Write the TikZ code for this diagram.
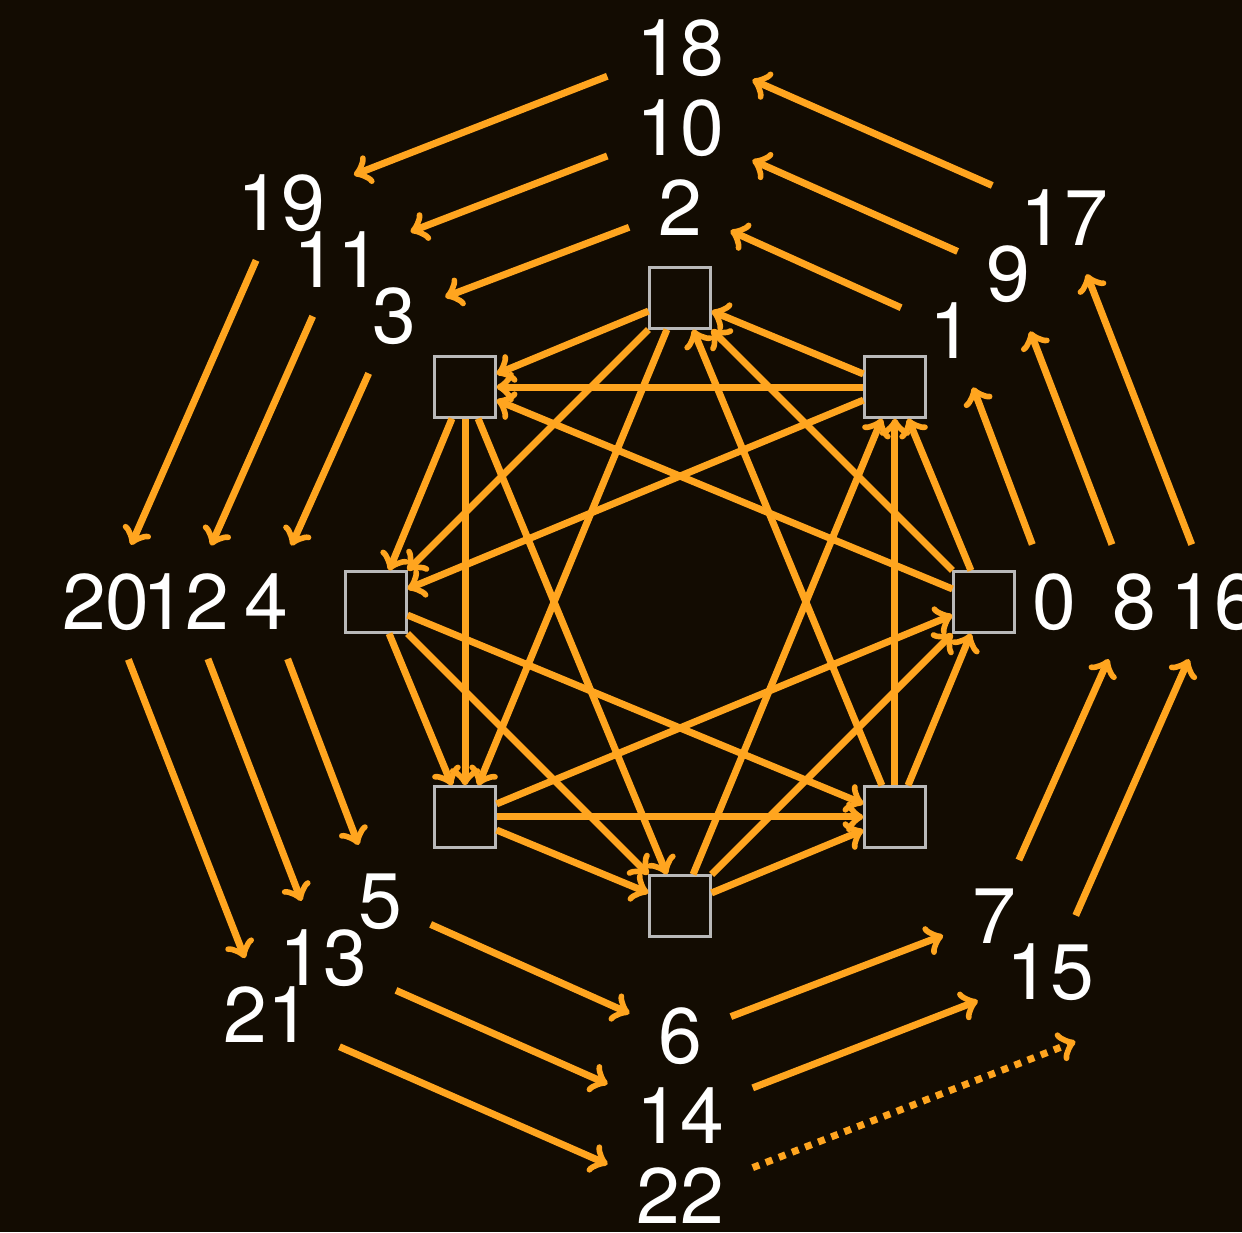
\documentclass[tikz,border=0pt]{standalone}
\usepackage{fontspec}
\setmainfont{TeX Gyre Heros}
\definecolor{bg}{HTML}{130C02}
\definecolor{arrowc}{HTML}{FFA51F}
\tikzset{
  sq/.style={draw=gray!55, line width=0.6pt, fill=bg, minimum size=0.61cm, inner sep=0pt},
  num/.style={text=white, font=\fontsize{22.4}{27}\selectfont, inner sep=3pt},
  edge/.style={draw=arrowc, line width=2pt, ->},
  hop/.style={edge, shorten >=0.19cm, shorten <=0.19cm}
}
\begin{document}
\begin{tikzpicture}
  \fill[bg] (-6.80,6.02) rectangle (5.62,-6.30);
  \useasboundingbox (-6.80,6.02) rectangle (5.62,-6.30);
  \foreach \i in {0,...,7}
    \node[sq] (s\i) at ({45*\i}:3.04) {};
  \foreach \n in {0,...,22}
    \node[num] (n\n) at ({45*\n}:{3.74+0.1*\n}) {\n};
  \coordinate (n23) at ({45*23}:6.04);
  \foreach \i in {0,...,7}
    \foreach \d in {1,2,3} {
      \pgfmathtruncatemacro{\j}{mod(\i+\d,8)}
      \draw[edge] (s\i) -- (s\j);
    }
  \foreach \n [evaluate=\n as \m using int(\n+1)] in {0,...,21}
    \draw[hop] (n\n) -- (n\m);
  \draw[hop, dotted, shorten >=0.34cm] (n22) -- (n23);
\end{tikzpicture}
\end{document}
